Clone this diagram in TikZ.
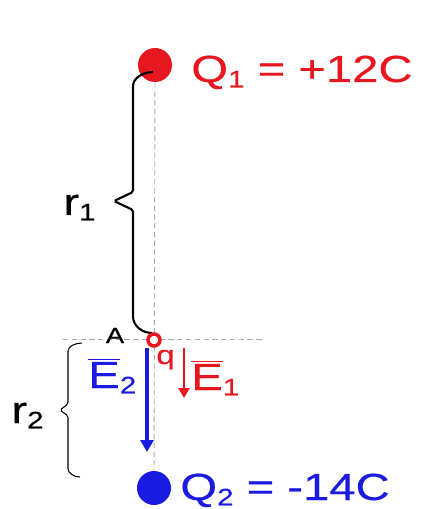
\documentclass[tikz,border=0pt]{standalone}
\usepackage{fontspec}
\setmainfont{Liberation Sans}[FakeStretch=1.25,FakeBold=0.4]
\usepackage{xcolor}
\usetikzlibrary{arrows.meta}
\definecolor{ChargePos}{HTML}{E8161E}
\definecolor{ChargeNeg}{HTML}{1A1AE0}
\definecolor{Guide}{HTML}{A8A8A8}
\newcommand{\bigtxt}{\fontsize{21.5}{24}\selectfont}
\newcommand{\lowidx}[1]{\raisebox{-0.14em}{\fontsize{13.5}{14}\selectfont #1}}
\newcommand{\barE}{$\overline{\hbox{E}}$}

\begin{document}
\begin{tikzpicture}[x=0.02cm,y=-0.02cm,every node/.style={inner sep=0pt,font=\bigtxt},guide/.style={draw=Guide,densely dashed,line width=0.5pt},charge/.style={circle,minimum size=0.68cm},probe/.style={circle,draw=ChargePos,fill=white,line width=0.07cm,minimum size=0.24cm},brace/.style={draw=black,line width=1.2pt,rounded corners=1pt},fieldone/.style={draw=ChargePos,line width=1.7pt,-{Triangle[length=0.2cm,width=0.22cm]}},fieldtwo/.style={draw=ChargeNeg,line width=2.3pt,-{Triangle[length=0.24cm,width=0.26cm]}}]
\useasboundingbox (0,0) rectangle (428,509);
\fill[white] (0,0) rectangle (428,509);
\coordinate (q1c) at (155,65);
\coordinate (q2c) at (154,488);
\draw[guide] (q1c) -- (q2c);
\draw[guide] (63,339) -- (265,339);
\node[charge,fill=ChargePos] (q1dot) at (q1c) {};
\node[charge,fill=ChargeNeg] (q2dot) at (q2c) {};
\node[anchor=base west,text=ChargePos] (q1lbl) at (191,82) {Q\lowidx{1} = +12C};
\node[anchor=base west,text=ChargeNeg] (q2lbl) at (180,500) {Q\lowidx{2} = -14C};
\draw[brace] (153,72) to[out=180,in=90] (133,88) -- (133,192) -- (114,201) -- (133,210) -- (133,315) to[out=-90,in=180] (152,333);
\node[anchor=base west] (r1lbl) at (63,215) {r\lowidx{1}};
\draw[brace,line width=0.6pt] (82,343) to[out=180,in=90] (68,353) -- (68,404) -- (60,410) -- (68,416) -- (68,467) to[out=-90,in=180] (80,477);
\node[anchor=base west] (r2lbl) at (11,423) {r\lowidx{2}};
\node[probe] (qpt) at (154,340) {};
\node[anchor=base,font=\fontsize{12.5}{14}\selectfont] (albl) at (115,343) {A};
\node[anchor=base west,text=ChargePos,font=\fontsize{15}{17}\selectfont] (qlbl) at (156,364) {q};
\coordinate (e2base) at (147,348);
\coordinate (e2tip) at (147,452);
\draw[fieldtwo] (e2base) -- (e2tip);
\coordinate (e1base) at (184,348);
\coordinate (e1tip) at (184,398);
\draw[fieldone] (e1base) -- (e1tip);
\node[anchor=base west,text=ChargeNeg] (e2lbl) at (88,388) {\barE\lowidx{2}};
\node[anchor=base west,text=ChargePos] (e1lbl) at (191,390) {\barE\lowidx{1}};
\end{tikzpicture}
\end{document}
